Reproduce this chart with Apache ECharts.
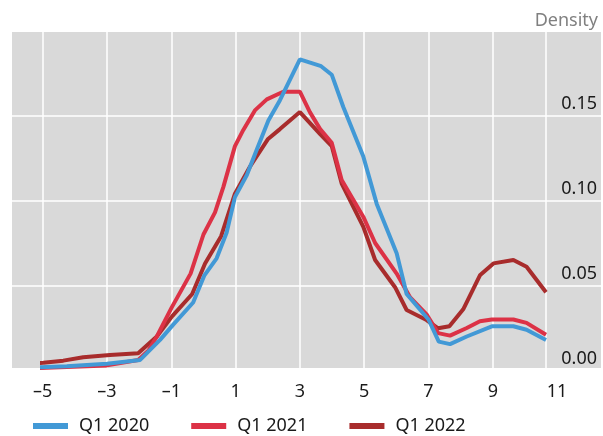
<!DOCTYPE html>
<html>
<head>
<meta charset="utf-8">
<script src="https://cdn.jsdelivr.net/npm/echarts@6/dist/echarts.min.js"></script>
<style>html,body{margin:0;padding:0;background:#fff}#c{width:603px;height:436px}</style>
</head>
<body>
<div id="c"></div>
<script>
const seriesNames = ['Q1 2020', 'Q1 2021', 'Q1 2022'];
const xTickLabels = [-5, -3, -1, 1, 3, 5, 7, 9, 11];
const yTickLabels = [0, 0.05, 0.10, 0.15];

const q1_2020 = [
  [-5.71, 0.0015], [-4.25, 0.0025], [-3.0, 0.004], [-1.97, 0.0062], [-1.35, 0.018],
  [-0.94, 0.027], [-0.32, 0.040], [0.03, 0.056], [0.41, 0.066], [0.72, 0.081],
  [0.98, 0.102], [1.35, 0.115], [1.66, 0.130], [2.02, 0.147], [2.38, 0.159],
  [3.0, 0.183], [3.66, 0.179], [3.99, 0.174], [4.35, 0.155], [4.97, 0.126],
  [5.39, 0.098], [6.01, 0.069], [6.32, 0.045], [7.0, 0.030], [7.32, 0.017],
  [7.67, 0.0155], [8.19, 0.020], [8.97, 0.026], [9.64, 0.026], [10.05, 0.024],
  [10.655, 0.018]
];
const q1_2021 = [
  [-5.71, 0.001], [-4.25, 0.002], [-3.0, 0.003], [-2.03, 0.0062], [-1.7, 0.012],
  [-1.45, 0.020], [-0.99, 0.037], [-0.4, 0.057], [0.0, 0.080], [0.36, 0.093],
  [0.62, 0.108], [0.98, 0.132], [1.24, 0.1415], [1.60, 0.153], [1.97, 0.1595],
  [2.48, 0.164], [3.0, 0.164], [3.31, 0.152], [3.63, 0.142], [3.99, 0.134],
  [4.30, 0.112], [4.97, 0.0905], [5.34, 0.075], [6.01, 0.057], [6.43, 0.043],
  [6.94, 0.033], [7.3, 0.022], [7.67, 0.0205], [8.19, 0.025], [8.6, 0.029],
  [8.97, 0.030], [9.64, 0.030], [10.05, 0.028], [10.655, 0.021]
];
const q1_2022 = [
  [-5.71, 0.0032], [-4.98, 0.0046], [-4.36, 0.0058], [-3.74, 0.0078], [-2.91, 0.0091],
  [-2.03, 0.0101], [-1.45, 0.020], [-0.97, 0.032], [-0.35, 0.045], [0.05, 0.063],
  [0.55, 0.079], [0.98, 0.104], [1.45, 0.120], [2.0, 0.136], [2.38, 0.142],
  [3.0, 0.152], [3.63, 0.139], [3.99, 0.132], [4.30, 0.110], [4.97, 0.0846],
  [5.34, 0.065], [5.96, 0.049], [6.32, 0.0356], [6.94, 0.0297], [7.3, 0.0248],
  [7.65, 0.026], [8.08, 0.036], [8.6, 0.056], [9.02, 0.063], [9.64, 0.065],
  [10.05, 0.061], [10.655, 0.046]
];

const colors = ['#4299d6', '#dc3246', '#a82c2c'];
const FONT = '"Noto Sans", "Open Sans", sans-serif';

const chart = echarts.init(document.getElementById('c'), null, {renderer: 'canvas'});
const white = {color: '#ffffff', width: 1.5};

function fmtX(v) {
  return v < 0 ? '\u2013' + Math.abs(v) : String(v);
}

chart.setOption({
  animation: false,
  backgroundColor: '#ffffff',
  title: {
    text: 'Density', right: 0, top: 7,
    textStyle: {fontSize: 18, fontWeight: 'normal', color: '#808080', fontFamily: FONT}
  },
  legend: {
    data: seriesNames, left: 33, top: 417, padding: 0,
    icon: 'rect', itemWidth: 35, itemHeight: 6, itemGap: 42,
    textStyle: {fontSize: 18, color: '#1a1a1a', fontFamily: FONT, padding: [0, 0, 0, 6]}
  },
  grid: [
    {left: 12, right: 2, top: 32, bottom: 68, show: true, backgroundColor: '#d9d9d9', borderWidth: 0},
    {left: 12, right: 2, top: 30.5, bottom: 65.5},
    {left: 42.7, width: 503.3, top: 30.5, bottom: 65.5},
    {left: 42.7, width: 514.4, top: 30.5, bottom: 65.5}
  ],
  xAxis: [
    {gridIndex: 0, type: 'value', show: false, min: 0, max: 1},
    {gridIndex: 1, type: 'value', show: false, min: 0, max: 1},
    {gridIndex: 2, type: 'value', min: -5, max: 10.655, interval: 2,
     axisLine: {show: false}, axisTick: {show: false}, axisLabel: {show: false},
     splitLine: {show: true, lineStyle: white}},
    {gridIndex: 3, type: 'value', min: xTickLabels[0], max: xTickLabels[xTickLabels.length - 1], interval: 2,
     axisLine: {show: false}, axisTick: {show: false}, splitLine: {show: false},
     axisLabel: {show: true, margin: 12, showMinLabel: true, showMaxLabel: true,
       formatter: fmtX, fontSize: 18, color: '#1a1a1a', fontFamily: FONT}}
  ],
  yAxis: [
    {gridIndex: 0, type: 'value', show: false, min: 0, max: 1},
    {gridIndex: 1, type: 'value', position: 'right', min: 0, max: 0.2, interval: 0.05,
     axisLine: {show: false}, axisTick: {show: false},
     splitLine: {show: true, lineStyle: white},
     axisLabel: {show: true, inside: true, margin: 4, showMaxLabel: false,
       verticalAlign: 'bottom', padding: [0, 0, 3, 0],
       formatter: function (v) { return yTickLabels.some(t => Math.abs(t - v) < 1e-9) ? v.toFixed(2) : ''; },
       fontSize: 18, color: '#1a1a1a', fontFamily: FONT}},
    {gridIndex: 2, type: 'value', show: false, min: 0, max: 0.2},
    {gridIndex: 3, type: 'value', show: false, min: 0, max: 1}
  ],
  series: [
    {name: seriesNames[0], type: 'line', xAxisIndex: 2, yAxisIndex: 2, data: q1_2020, z: 5,
     showSymbol: false, clip: false, color: colors[0], lineStyle: {width: 4, color: colors[0]}},
    {name: seriesNames[1], type: 'line', xAxisIndex: 2, yAxisIndex: 2, data: q1_2021, z: 4,
     showSymbol: false, clip: false, color: colors[1], lineStyle: {width: 4, color: colors[1]}},
    {name: seriesNames[2], type: 'line', xAxisIndex: 2, yAxisIndex: 2, data: q1_2022, z: 3,
     showSymbol: false, clip: false, color: colors[2], lineStyle: {width: 4, color: colors[2]}}
  ]
});
</script>
</body>
</html>
